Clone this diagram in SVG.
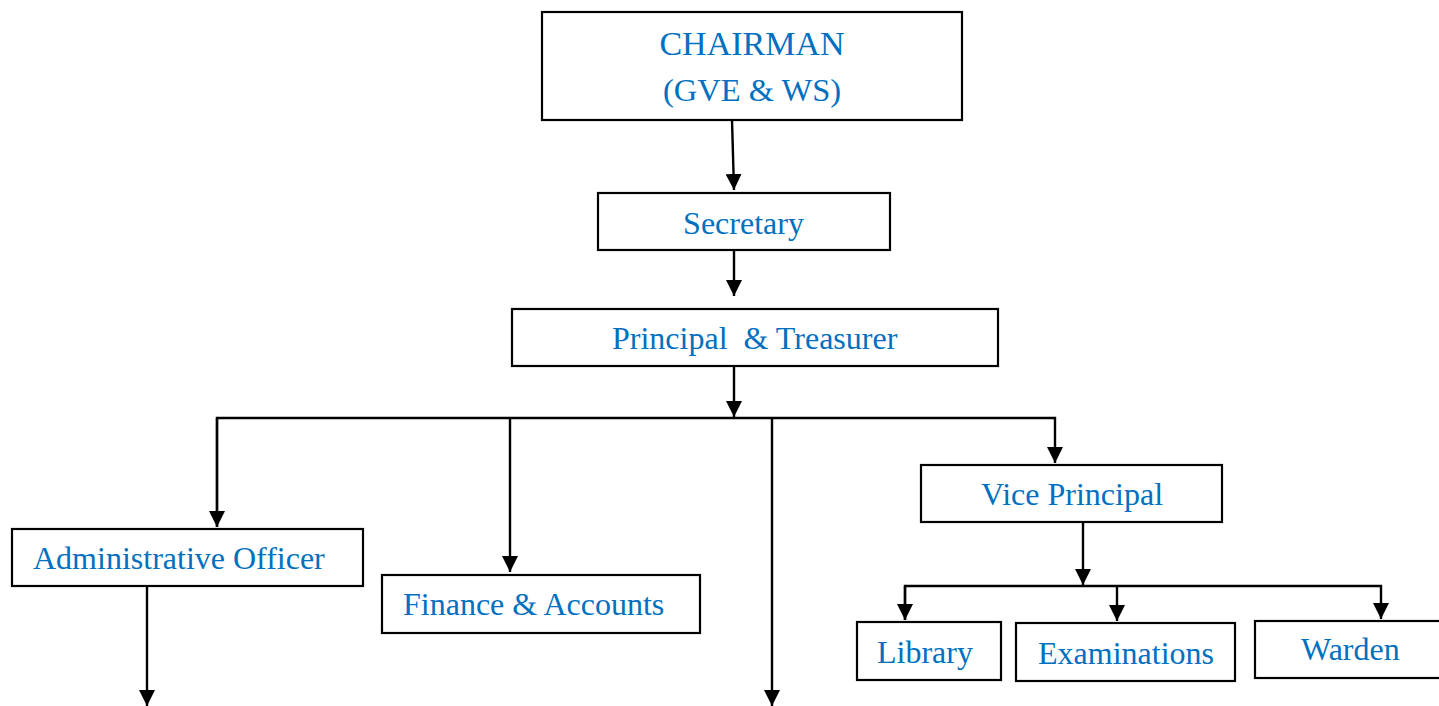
<svg xmlns="http://www.w3.org/2000/svg" width="1439" height="706" viewBox="0 0 1439 706">
<style>
.box{fill:#fff;stroke:#000;stroke-width:2.2}
.lbl{font-family:"Liberation Serif","Times New Roman",serif;font-size:32px;fill:#0070C0}
.con{fill:none;stroke:#000;stroke-width:2.4}
</style>
<defs>
<marker id="ah" markerUnits="userSpaceOnUse" markerWidth="16" markerHeight="16" viewBox="0 0 16 16" refX="16" refY="8" orient="auto">
<path d="M0,0 L16,8 L0,16 z" fill="#000"/>
</marker>
</defs>
<rect width="1439" height="706" fill="#fff"/>
<g id="connectors">
<line class="con" x1="732" y1="120" x2="734" y2="190" marker-end="url(#ah)"/>
<line class="con" x1="734" y1="251" x2="734" y2="296" marker-end="url(#ah)"/>
<line class="con" x1="734" y1="367" x2="734" y2="417" marker-end="url(#ah)"/>
<polyline class="con" points="217,527 217,418 1055,418 1055,463" marker-end="url(#ah)"/>
<line class="con" x1="217" y1="418" x2="217" y2="527" marker-end="url(#ah)"/>
<line class="con" x1="510" y1="418" x2="510" y2="572" marker-end="url(#ah)"/>
<line class="con" x1="772" y1="418" x2="772" y2="706" marker-end="url(#ah)"/>
<line class="con" x1="147" y1="587" x2="147" y2="706" marker-end="url(#ah)"/>
<line class="con" x1="1083" y1="523" x2="1083" y2="585" marker-end="url(#ah)"/>
<polyline class="con" points="905,620 905,586 1381,586 1381,619" marker-end="url(#ah)"/>
<line class="con" x1="905" y1="586" x2="905" y2="620" marker-end="url(#ah)"/>
<line class="con" x1="1117" y1="586" x2="1117" y2="621" marker-end="url(#ah)"/>
</g>
<g id="chairman">
<rect class="box" x="542" y="12" width="420" height="108"/>
<text class="lbl" x="752" y="55" text-anchor="middle" style="font-size:34px">CHAIRMAN</text>
<text class="lbl" x="752" y="101" text-anchor="middle" style="font-size:32.5px">(GVE &amp; WS)</text>
</g>
<g id="secretary">
<rect class="box" x="598" y="193" width="292" height="57"/>
<text class="lbl" x="743.5" y="234" text-anchor="middle">Secretary</text>
</g>
<g id="principal">
<rect class="box" x="512" y="309" width="486" height="57"/>
<text class="lbl" x="612" y="349" xml:space="preserve">Principal  &amp; Treasurer</text>
</g>
<g id="admin">
<rect class="box" x="12" y="529" width="351" height="57"/>
<text class="lbl" x="33" y="569">Administrative Officer</text>
</g>
<g id="finance">
<rect class="box" x="382" y="575" width="318" height="58"/>
<text class="lbl" x="403" y="615">Finance &amp; Accounts</text>
</g>
<g id="vice-principal">
<rect class="box" x="921" y="465" width="301" height="57"/>
<text class="lbl" x="981" y="505">Vice Principal</text>
</g>
<g id="library">
<rect class="box" x="857" y="622" width="144" height="58"/>
<text class="lbl" x="877" y="663">Library</text>
</g>
<g id="examinations">
<rect class="box" x="1016" y="623" width="219" height="58"/>
<text class="lbl" x="1038" y="664">Examinations</text>
</g>
<g id="warden">
<rect class="box" x="1255" y="621" width="195" height="57"/>
<text class="lbl" x="1301" y="660">Warden</text>
</g>
</svg>
